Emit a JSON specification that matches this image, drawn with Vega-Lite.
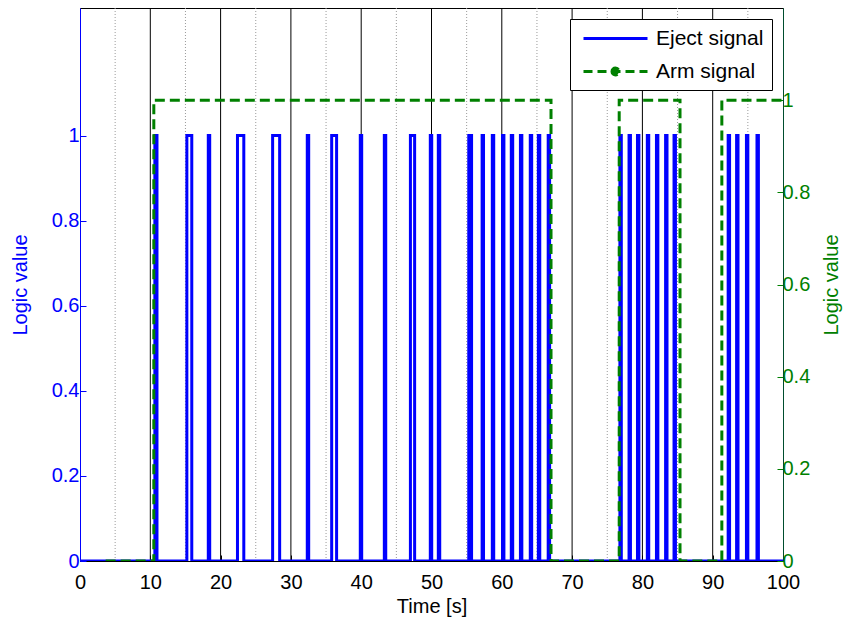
{
  "$schema": "https://vega.github.io/schema/vega-lite/v6.json",
  "width": 703,
  "height": 553,
  "autosize": {"type": "none"},
  "padding": {"left": 80, "top": 8, "right": 60, "bottom": 60},
  "background": "white",
  "config": {
    "font": "Liberation Sans",
    "view": {"stroke": "black", "strokeWidth": 1},
    "axis": {
      "grid": false,
      "labelFont": "Liberation Sans",
      "titleFont": "Liberation Sans",
      "labelFontSize": 20,
      "titleFontSize": 20,
      "titleFontWeight": "normal",
      "zindex": 1
    }
  },
  "datasets": {
    "grid": [
      {"t": 5, "kind": "minor"}, {"t": 10, "kind": "major"}, {"t": 15, "kind": "minor"}, {"t": 20, "kind": "major"},
      {"t": 25, "kind": "minor"}, {"t": 30, "kind": "major"}, {"t": 35, "kind": "minor"}, {"t": 40, "kind": "major"},
      {"t": 45, "kind": "minor"}, {"t": 50, "kind": "major"}, {"t": 55, "kind": "minor"}, {"t": 60, "kind": "major"},
      {"t": 65, "kind": "minor"}, {"t": 70, "kind": "major"}, {"t": 75, "kind": "minor"}, {"t": 80, "kind": "major"},
      {"t": 85, "kind": "minor"}, {"t": 90, "kind": "major"}, {"t": 95, "kind": "minor"}
    ],
    "eject": [
      {"t": 0, "v": 0},
      {"t": 10.65, "v": 1}, {"t": 10.95, "v": 0},
      {"t": 15.2, "v": 1}, {"t": 15.9, "v": 0},
      {"t": 18.25, "v": 1}, {"t": 18.45, "v": 0},
      {"t": 22.4, "v": 1}, {"t": 23.3, "v": 0},
      {"t": 27.4, "v": 1}, {"t": 28.4, "v": 0},
      {"t": 32.33, "v": 1}, {"t": 32.53, "v": 0},
      {"t": 35.8, "v": 1}, {"t": 36.5, "v": 0},
      {"t": 39.87, "v": 1}, {"t": 40.07, "v": 0},
      {"t": 43.29, "v": 1}, {"t": 43.49, "v": 0},
      {"t": 47.0, "v": 1}, {"t": 47.6, "v": 0},
      {"t": 49.83, "v": 1}, {"t": 50.03, "v": 0},
      {"t": 50.97, "v": 1}, {"t": 51.17, "v": 0},
      {"t": 55.3, "v": 1}, {"t": 55.7, "v": 0},
      {"t": 57.2, "v": 1}, {"t": 57.4, "v": 0},
      {"t": 58.65, "v": 1}, {"t": 58.85, "v": 0},
      {"t": 60.1, "v": 1}, {"t": 60.3, "v": 0},
      {"t": 61.35, "v": 1}, {"t": 61.55, "v": 0},
      {"t": 62.65, "v": 1}, {"t": 62.85, "v": 0},
      {"t": 64.05, "v": 1}, {"t": 64.25, "v": 0},
      {"t": 65.2, "v": 1}, {"t": 65.4, "v": 0},
      {"t": 66.6, "v": 1}, {"t": 66.8, "v": 0},
      {"t": 76.8, "v": 1}, {"t": 77.0, "v": 0},
      {"t": 78.1, "v": 1}, {"t": 78.3, "v": 0},
      {"t": 79.3, "v": 1}, {"t": 79.5, "v": 0},
      {"t": 80.7, "v": 1}, {"t": 80.9, "v": 0},
      {"t": 82.0, "v": 1}, {"t": 82.2, "v": 0},
      {"t": 83.3, "v": 1}, {"t": 83.5, "v": 0},
      {"t": 84.5, "v": 1}, {"t": 84.7, "v": 0},
      {"t": 92.2, "v": 1}, {"t": 92.4, "v": 0},
      {"t": 93.4, "v": 1}, {"t": 93.6, "v": 0},
      {"t": 94.8, "v": 1}, {"t": 95.0, "v": 0},
      {"t": 96.3, "v": 1}, {"t": 96.5, "v": 0},
      {"t": 100, "v": 0}
    ],
    "arm": [
      {"t": 3.65, "v": 0},
      {"t": 10.5, "v": 1},
      {"t": 67.0, "v": 0},
      {"t": 76.7, "v": 1},
      {"t": 85.35, "v": 0},
      {"t": 91.3, "v": 1},
      {"t": 100, "v": 1}
    ]
  },
  "layer": [
    {
      "data": {"name": "grid"},
      "transform": [{"filter": "datum.kind === 'major'"}],
      "mark": {"type": "rule", "color": "black", "strokeWidth": 1},
      "encoding": {
        "x": {
          "field": "t", "type": "quantitative",
          "scale": {"domain": [0, 100], "nice": false},
          "axis": {
            "values": [0, 10, 20, 30, 40, 50, 60, 70, 80, 90, 100],
            "title": "Time [s]",
            "labelFlush": false,
            "labelColor": "black", "titleColor": "black",
            "domainColor": "black", "tickColor": "black",
            "tickSize": -6, "labelPadding": 17, "titlePadding": 4
          }
        }
      }
    },
    {
      "data": {"name": "grid"},
      "transform": [{"filter": "datum.kind === 'minor'"}],
      "mark": {"type": "rule", "color": "#9a9a9a", "strokeWidth": 1, "strokeDash": [1, 2]},
      "encoding": {"x": {"field": "t", "type": "quantitative"}}
    },
    {
      "data": {"name": "eject"},
      "mark": {"type": "line", "interpolate": "step-after", "strokeWidth": 3, "clip": true},
      "encoding": {
        "x": {"field": "t", "type": "quantitative"},
        "y": {
          "field": "v", "type": "quantitative",
          "scale": {"domain": [0, 1.3], "nice": false},
          "axis": {
            "orient": "left",
            "values": [0, 0.2, 0.4, 0.6, 0.8, 1],
            "format": "~g",
            "title": "Logic value",
            "labelColor": "#0000ff", "titleColor": "#0000ff",
            "domainColor": "#0000ff", "tickColor": "#0000ff",
            "tickSize": -6, "labelPadding": 7, "titlePadding": 21
          }
        },
        "color": {
          "datum": "Eject signal", "type": "nominal",
          "scale": {"domain": ["Eject signal", "Arm signal"], "range": ["#0000ff", "#008000"]},
          "legend": {
            "orient": "none", "legendX": 490, "legendY": 11,
            "title": null,
            "symbolType": "stroke", "symbolSize": 400, "symbolStrokeWidth": 3,
            "symbolOffset": 26,
            "labelFontSize": 21, "labelFont": "Liberation Sans", "labelColor": "black",
            "labelOffset": 29,
            "strokeColor": "black", "fillColor": "white",
            "padding": 8, "rowPadding": 11,
            "encode": {
              "symbols": {
                "update": {
                  "strokeDash": {"signal": "datum.value === 'Arm signal' ? [9, 5] : [1, 0]"},
                  "shape": {"signal": "datum.value === 'Arm signal' ? 'M-3.2,0H3.2M-0.35,0A0.35,0.35,0,1,1,0.35,0A0.35,0.35,0,1,1,-0.35,0' : 'M-3.2,0H3.2'"},
                  "fill": {"signal": "datum.value === 'Arm signal' ? '#008000' : 'transparent'"}
                }
              }
            }
          }
        }
      }
    },
    {
      "data": {"name": "arm"},
      "mark": {"type": "line", "interpolate": "step-after", "strokeWidth": 3, "strokeDash": [10, 5], "clip": true},
      "encoding": {
        "x": {"field": "t", "type": "quantitative"},
        "y": {
          "field": "v", "type": "quantitative",
          "scale": {"domain": [0, 1.2], "nice": false},
          "axis": {
            "orient": "right",
            "values": [0, 0.2, 0.4, 0.6, 0.8, 1],
            "format": "~g",
            "title": "Logic value",
            "titleAngle": 270,
            "labelColor": "#008000", "titleColor": "#008000",
            "domainColor": "#004d2e", "tickColor": "#008000",
            "tickSize": -6, "labelPadding": 5, "titlePadding": 32
          }
        },
        "color": {"datum": "Arm signal", "type": "nominal"}
      }
    }
  ],
  "resolve": {"scale": {"y": "independent"}}
}
